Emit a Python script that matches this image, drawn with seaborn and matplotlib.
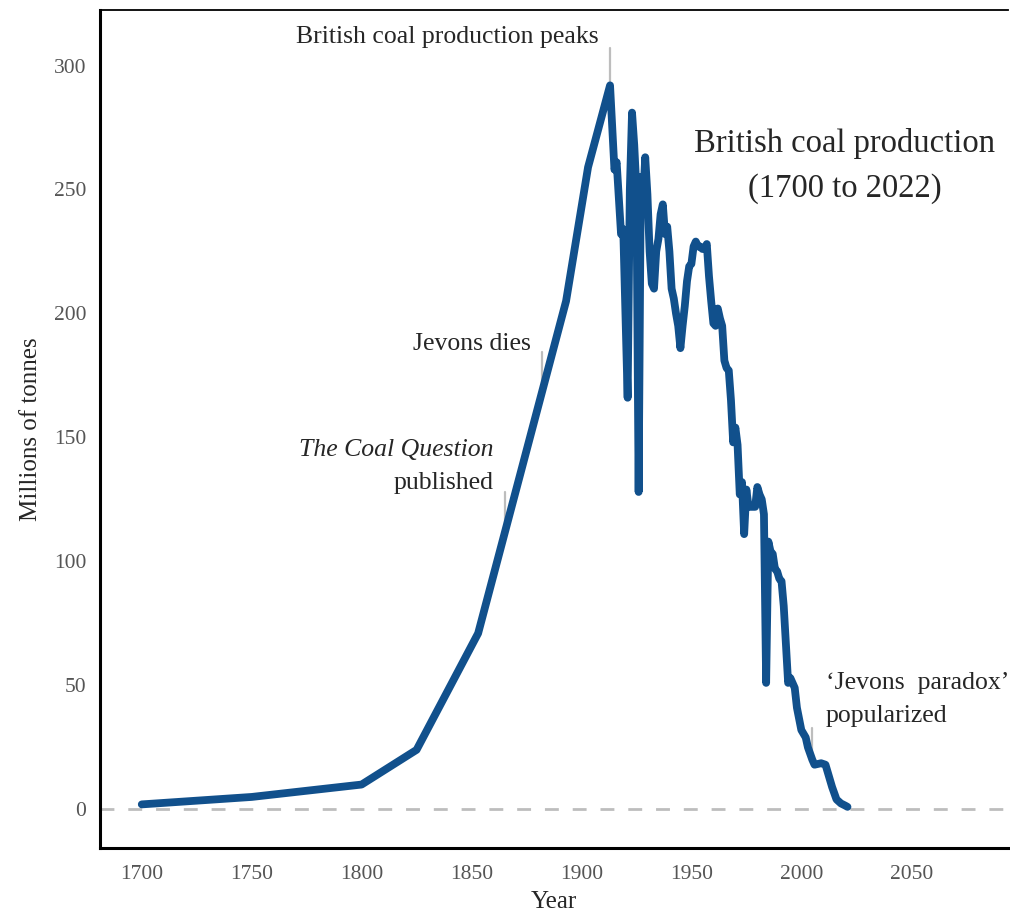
import matplotlib
matplotlib.use("Agg")
import matplotlib.pyplot as plt
import seaborn as sns
import pandas as pd

years = [1700, 1750, 1800, 1825, 1853, 1893, 1903, 1913, 1915, 1916, 1918, 1919,
         1921, 1922, 1923, 1924, 1925, 1926, 1927, 1928, 1929, 1930, 1931, 1932,
         1933, 1934, 1935, 1936, 1937, 1938, 1939, 1940, 1941, 1942, 1943, 1944,
         1945, 1946, 1947, 1948, 1949, 1950, 1951, 1952, 1953, 1954, 1955, 1956,
         1957, 1958, 1959, 1960, 1961, 1962, 1963, 1964, 1965, 1966, 1967, 1968,
         1969, 1970, 1971, 1972, 1973, 1974, 1975, 1976, 1977, 1978, 1979, 1980,
         1981, 1982, 1983, 1984, 1985, 1986, 1987, 1988, 1989, 1990, 1991, 1992,
         1994, 1995, 1997, 1998, 2000, 2002, 2003, 2005, 2006, 2009, 2011, 2013,
         2014, 2016, 2018, 2020, 2021]
production = [2, 5, 10, 24, 71, 205, 259, 292, 258, 261, 232, 234,
              166, 250, 281, 268, 250, 128, 255, 245, 263, 248, 225, 212,
              210, 225, 230, 240, 244, 232, 235, 225, 210, 206, 200, 195,
              186, 195, 203, 213, 219, 220, 227, 229, 227, 227, 226, 226,
              228, 215, 205, 196, 195, 202, 198, 195, 181, 178, 177, 165,
              148, 154, 147, 127, 132, 111, 129, 122, 122, 122, 122, 130,
              127, 125, 119, 51, 108, 104, 103, 97, 96, 93, 92, 82,
              51, 53, 49, 41, 32, 29, 25, 20, 18, 18.6, 18, 12,
              9, 4, 2.4, 1.5, 1]

x_ticks = [1700, 1750, 1800, 1850, 1900, 1950, 2000, 2050]
y_ticks = [0, 50, 100, 150, 200, 250, 300]

events = ["British coal production peaks", "Jevons dies", "The Coal Question",
          "‘Jevons  paradox’"]
event_years = [1913, 1882, 1865, 2005]
event_lo = [292, 169, 112.5, 18]
event_hi = [307, 184.5, 128, 33]

df = pd.DataFrame({"Year": years, "Production": production})

sns.set_theme(style="white")
plt.rcParams['font.family'] = ['Liberation Serif', 'DejaVu Serif']

fig = plt.figure(figsize=(10.1, 9.15), dpi=100)
ax = fig.add_axes([0.099, 0.0732, 0.899, 0.9159])

ax.axhline(0, color="#bdbdbd", lw=2, ls=(0, (5, 5)), zorder=1)
sns.lineplot(data=df, x="Year", y="Production", ax=ax, color="#11508c",
             lw=5.6, zorder=3)

for ey, lo, hi in zip(event_years, event_lo, event_hi):
    ax.plot([ey, ey], [lo, hi], color="#bdbdbd", lw=1.6, zorder=2)

ax.set_xlim(1681, 2094)
ax.set_ylim(-15.6, 322.4)
ax.set_xticks(x_ticks)
ax.set_yticks(y_ticks)
ax.tick_params(direction="in", length=4, width=2, color="#222222",
               labelcolor="#555555", labelsize=15.5)
ax.tick_params(axis="y", pad=10)
ax.tick_params(axis="x", pad=12)

for s in ["left", "bottom"]:
    ax.spines[s].set_linewidth(2.2)
    ax.spines[s].set_color("black")
ax.spines["top"].set_linewidth(1.3)
ax.spines["top"].set_color("black")
ax.spines["right"].set_visible(False)

ax.set_xlabel("Year", fontsize=18, labelpad=5)
ax.set_ylabel("Millions of tonnes", fontsize=18, labelpad=8)

fs = 18.5
ax.text(1839, 311.5, events[0], ha="center", va="center", fontsize=fs)
ax.text(1877, 187.5, events[1], ha="right", va="center", fontsize=fs)
ax.text(1860, 145.0, events[2], ha="right", va="center", fontsize=fs,
        style="italic")
ax.text(1860, 131.8, "published", ha="right", va="center", fontsize=fs)
ax.text(2011, 51, events[3], ha="left", va="center", fontsize=fs)
ax.text(2011, 37.6, "popularized", ha="left", va="center", fontsize=fs)

ax.text(2019.6, 259.5, "British coal production\n(1700 to 2022)", ha="center",
        va="center", fontsize=23.5, linespacing=1.62)

fig.savefig("out.png", dpi=100)
